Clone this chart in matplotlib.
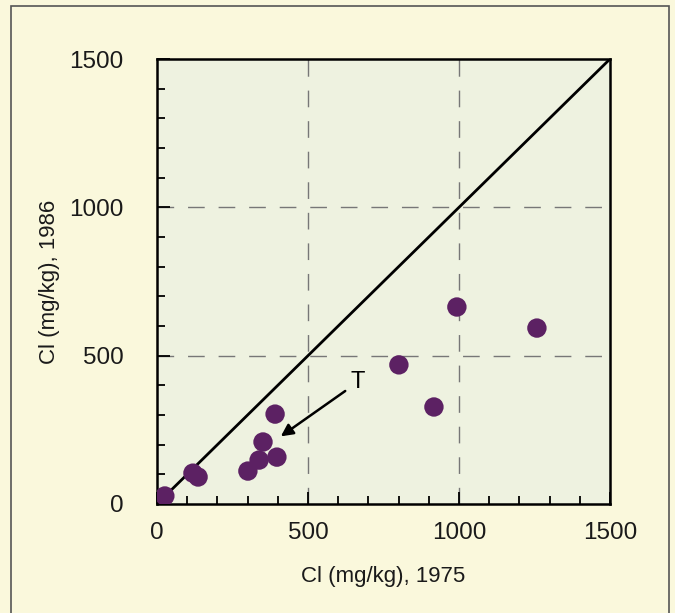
import matplotlib
matplotlib.use("Agg")
import matplotlib.pyplot as plt
from matplotlib.patches import Rectangle
from matplotlib.ticker import MultipleLocator

# Cl concentrations (mg/kg)
cl_1975 = [26, 119, 136, 301, 338, 351, 397, 391, 801, 917, 993, 1258]
cl_1986 = [27, 104, 91, 111, 148, 209, 158, 303, 469, 327, 664, 593]

ticks = [0, 500, 1000, 1500]
grid_vals = [500, 1000]

plt.rcParams['font.family'] = ['Liberation Sans', 'DejaVu Sans']

fig = plt.figure(figsize=(6.75, 6.13), dpi=100)
fig.patch.set_facecolor('#faf8dc')

# outer frame of the figure panel
fig.patches.append(Rectangle((11 / 675, -0.01), 658 / 675, 1 - 6 / 613 + 0.01,
                             transform=fig.transFigure, fill=False,
                             edgecolor='#555555', lw=1.2))

ax = fig.add_axes([157 / 675, 109 / 613, 453 / 675, 445 / 613])
ax.set_facecolor('#eef2e0')

for g in grid_vals:
    ax.axvline(g, color='#777777', lw=1, ls=(0, (12, 10)), zorder=1)
    ax.axhline(g, color='#777777', lw=1, ls=(0, (12, 10)), zorder=1)

ax.plot([0, 1500], [0, 1500], color='black', lw=2, zorder=2)
ax.scatter(cl_1975, cl_1986, s=195, color='#5c2163', edgecolors='none', zorder=3)

ax.annotate('T', xy=(410, 228), xytext=(640, 410), fontsize=17,
            ha='left', va='center',
            arrowprops=dict(arrowstyle='-|>', color='black', lw=1.8,
                            mutation_scale=18, shrinkA=2, shrinkB=0))

ax.set_xlim(0, 1500)
ax.set_ylim(0, 1500)
ax.set_xticks(ticks)
ax.set_yticks(ticks)
ax.xaxis.set_minor_locator(MultipleLocator(100))
ax.yaxis.set_minor_locator(MultipleLocator(100))
ax.tick_params(which='major', direction='in', length=9, width=1.3,
               labelsize=17.5, labelcolor='#1a1a1a')
ax.tick_params(axis='x', which='major', pad=13)
ax.tick_params(axis='y', which='major', pad=24)
ax.tick_params(which='minor', direction='in', length=6, width=1.3)
for s in ax.spines.values():
    s.set_linewidth(1.8)

ax.set_xlabel('Cl (mg/kg), 1975', fontsize=16, labelpad=16, color='#1a1a1a')
ax.set_ylabel('Cl (mg/kg), 1986', fontsize=16, labelpad=7, color='#1a1a1a')

fig.savefig('out.png', dpi=100, facecolor=fig.get_facecolor())
